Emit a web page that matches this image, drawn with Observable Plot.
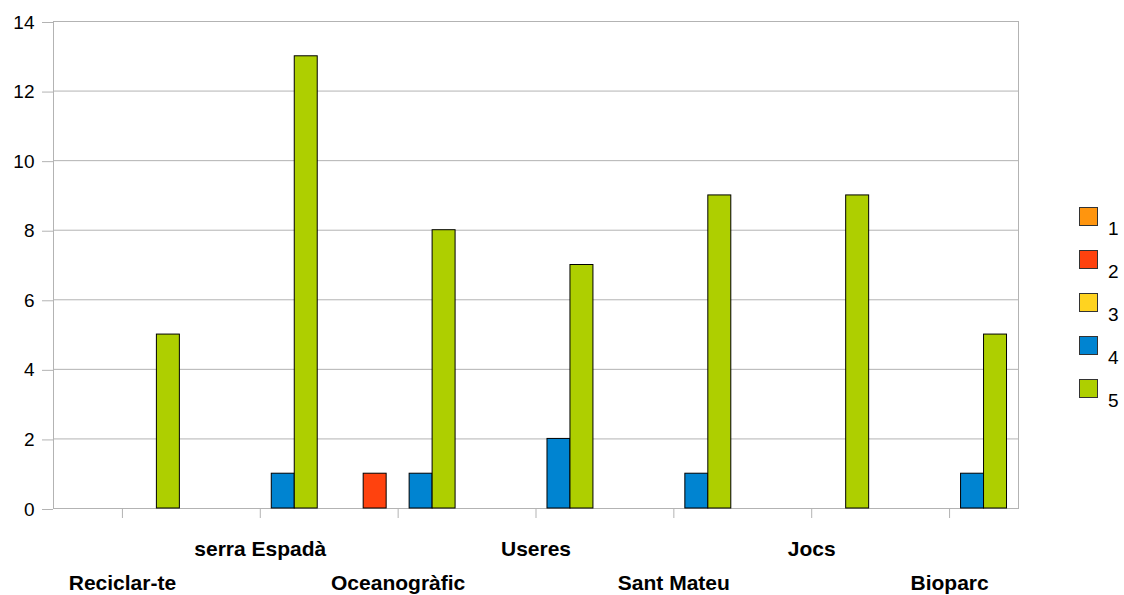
<!DOCTYPE html>
<html>
<head>
<meta charset="utf-8">
<script src="https://cdn.jsdelivr.net/npm/d3@7"></script>
<script src="https://cdn.jsdelivr.net/npm/@observablehq/plot@0.6"></script>
<style>
  html, body { margin: 0; padding: 0; background: #fff; }
  #wrap { position: relative; width: 1124px; height: 595px; font-family: "Liberation Sans", Arial, sans-serif; color: #000; }
  #legend { position: absolute; left: 1079px; top: 207px; }
  .item { position: relative; height: 43px; }
  .sw { position: absolute; left: 0; top: 0; width: 17px; height: 17px; border: 1px solid #333; }
  .lab { position: absolute; left: 29px; top: 12px; font-size: 19px; line-height: 19px; }
</style>
</head>
<body>
<div id="wrap"><div id="chart"></div><div id="legend"></div></div>
<script>
// Categories (x axis)
const categories = ["Reciclar-te", "serra Espadà", "Oceanogràfic", "Useres", "Sant Mateu", "Jocs", "Bioparc"];
// Series names (legend)
const seriesNames = ["1", "2", "3", "4", "5"];
// Series values, one per category
const series1 = [0, 0, 0, 0, 0, 0, 0];
const series2 = [0, 0, 1, 0, 0, 0, 0];
const series3 = [0, 0, 0, 0, 0, 0, 0];
const series4 = [0, 1, 1, 2, 1, 0, 1];
const series5 = [5, 13, 8, 7, 9, 9, 5];
const seriesValues = [series1, series2, series3, series4, series5];
// Colours
const colors = ["#ff950e", "#ff420e", "#ffd320", "#0084d1", "#aecf00"];
// Y tick labels
const yTicks = [0, 2, 4, 6, 8, 10, 12, 14];

const data = [];
categories.forEach((c, i) => seriesNames.forEach((s, j) => data.push({cat: c, series: s, value: seriesValues[j][i]})));

const W = 1124, H = 595, mL = 53, mR = 106, mT = 21, mB = 87;
const band = (W - mL - mR) / categories.length;
const barW = band / 6;
const inset = (band - barW) / 2;

const lowerCats = categories.filter((d, i) => i % 2 === 0);
const upperCats = categories.filter((d, i) => i % 2 === 1);
const grey = "#b3b3b3";

const chart = Plot.plot({
  width: W, height: H,
  marginLeft: mL, marginRight: mR, marginTop: mT, marginBottom: mB,
  style: {fontFamily: '"Liberation Sans", Arial, sans-serif', color: "#000", background: "#fff", overflow: "visible"},
  x: {domain: categories, padding: 0, round: false, label: null},
  y: {domain: [0, 14], label: null},
  marks: [
    Plot.gridY(yTicks, {stroke: grey, strokeOpacity: 1}),
    Plot.frame({stroke: grey}),
    ...seriesNames.map((s, j) => Plot.barY(data.filter(d => d.series === s && d.value > 0), {
      x: "cat", y: "value", fill: colors[j], stroke: "#000", strokeWidth: 1,
      insetLeft: inset, insetRight: inset, dx: (j - 2) * barW
    })),
    Plot.axisY(yTicks, {tickSize: 11, tickPadding: 8, fontSize: 19, stroke: grey, fill: "#000", dy: 1, label: null}),
    Plot.axisX({tickSize: 10, stroke: grey, tickFormat: () => "", label: null}),
    Plot.axisX(lowerCats, {tickSize: 0, tickPadding: 67, fontSize: 21, fontWeight: "bold", fill: "#000", label: null}),
    Plot.axisX(upperCats, {tickSize: 0, tickPadding: 33, fontSize: 21, fontWeight: "bold", fill: "#000", label: null})
  ]
});
document.getElementById("chart").appendChild(chart);

const legend = document.getElementById("legend");
seriesNames.forEach((s, j) => {
  const item = document.createElement("div");
  item.className = "item";
  item.innerHTML = `<div class="sw" style="background:${colors[j]}"></div><div class="lab">${s}</div>`;
  legend.appendChild(item);
});
</script>
</body>
</html>
